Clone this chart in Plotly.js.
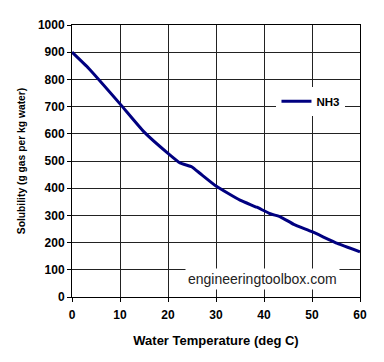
<!DOCTYPE html>
<html>
<head>
<meta charset="utf-8">
<script src="https://cdn.plot.ly/plotly-3.0.1.min.js"></script>
<style>html,body{margin:0;padding:0;background:#fff;}#chart{width:384px;height:362px;}</style>
</head>
<body>
<div id="chart"></div>
<script>
var seriesName = "NH3";
var temperature = [0, 3.5, 10, 15, 20, 22.5, 25, 26.7, 30, 35, 38.5, 41.3, 43.4, 46.2, 50, 55.3, 60];
var solubility = [900, 840, 710, 607, 528, 493, 478, 454, 408, 356, 330, 306, 295, 267, 240, 197, 166];
var xTitle = "Water Temperature (deg C)";
var yTitle = "Solubility (g gas per kg water)";
var watermark = "engineeringtoolbox.com";

var fam = "Liberation Sans, Arial, sans-serif";
var boldFont = function (s) { return {family: fam, size: s, color: "#000", weight: "bold"}; };

Plotly.newPlot("chart", [{
  x: temperature, y: solubility, type: "scatter", mode: "lines", name: seriesName,
  line: {color: "#000080", width: 3, shape: "spline", smoothing: 0.4}
}], {
  width: 384, height: 362,
  margin: {l: 72, r: 24, t: 25, b: 65},
  paper_bgcolor: "#fff", plot_bgcolor: "#fff",
  font: {family: fam, size: 11, color: "#000"},
  showlegend: true,
  legend: {x: 0.71, y: 0.72, xanchor: "left", yanchor: "middle", bgcolor: "#fff",
    font: boldFont(11.5), itemwidth: 30},
  xaxis: {
    range: [0, 60], dtick: 10, tick0: 0, showgrid: true, gridcolor: "#222", gridwidth: 1,
    showline: true, linecolor: "#000", linewidth: 1, mirror: true,
    ticks: "outside", ticklen: 4, tickcolor: "#000", zeroline: false,
    ticklabelstandoff: 3,
    tickfont: boldFont(12),
    title: {text: xTitle, font: boldFont(13), standoff: 14}
  },
  yaxis: {
    range: [0, 1000], dtick: 100, tick0: 0, showgrid: true, gridcolor: "#222", gridwidth: 1,
    showline: true, linecolor: "#000", linewidth: 1, mirror: true,
    ticks: "outside", ticklen: 4, tickcolor: "#000", zeroline: false,
    tickfont: boldFont(12),
    title: {text: yTitle, font: boldFont(10.3), standoff: 10}
  },
  annotations: [{
    text: watermark, xref: "paper", yref: "paper", x: 0.93, y: 0.067,
    xanchor: "right", yanchor: "middle", showarrow: false, bgcolor: "#fff",
    font: {family: fam, size: 14, color: "#222"}, borderpad: 2
  }]
}, {displayModeBar: false, staticPlot: true});
</script>
</body>
</html>
